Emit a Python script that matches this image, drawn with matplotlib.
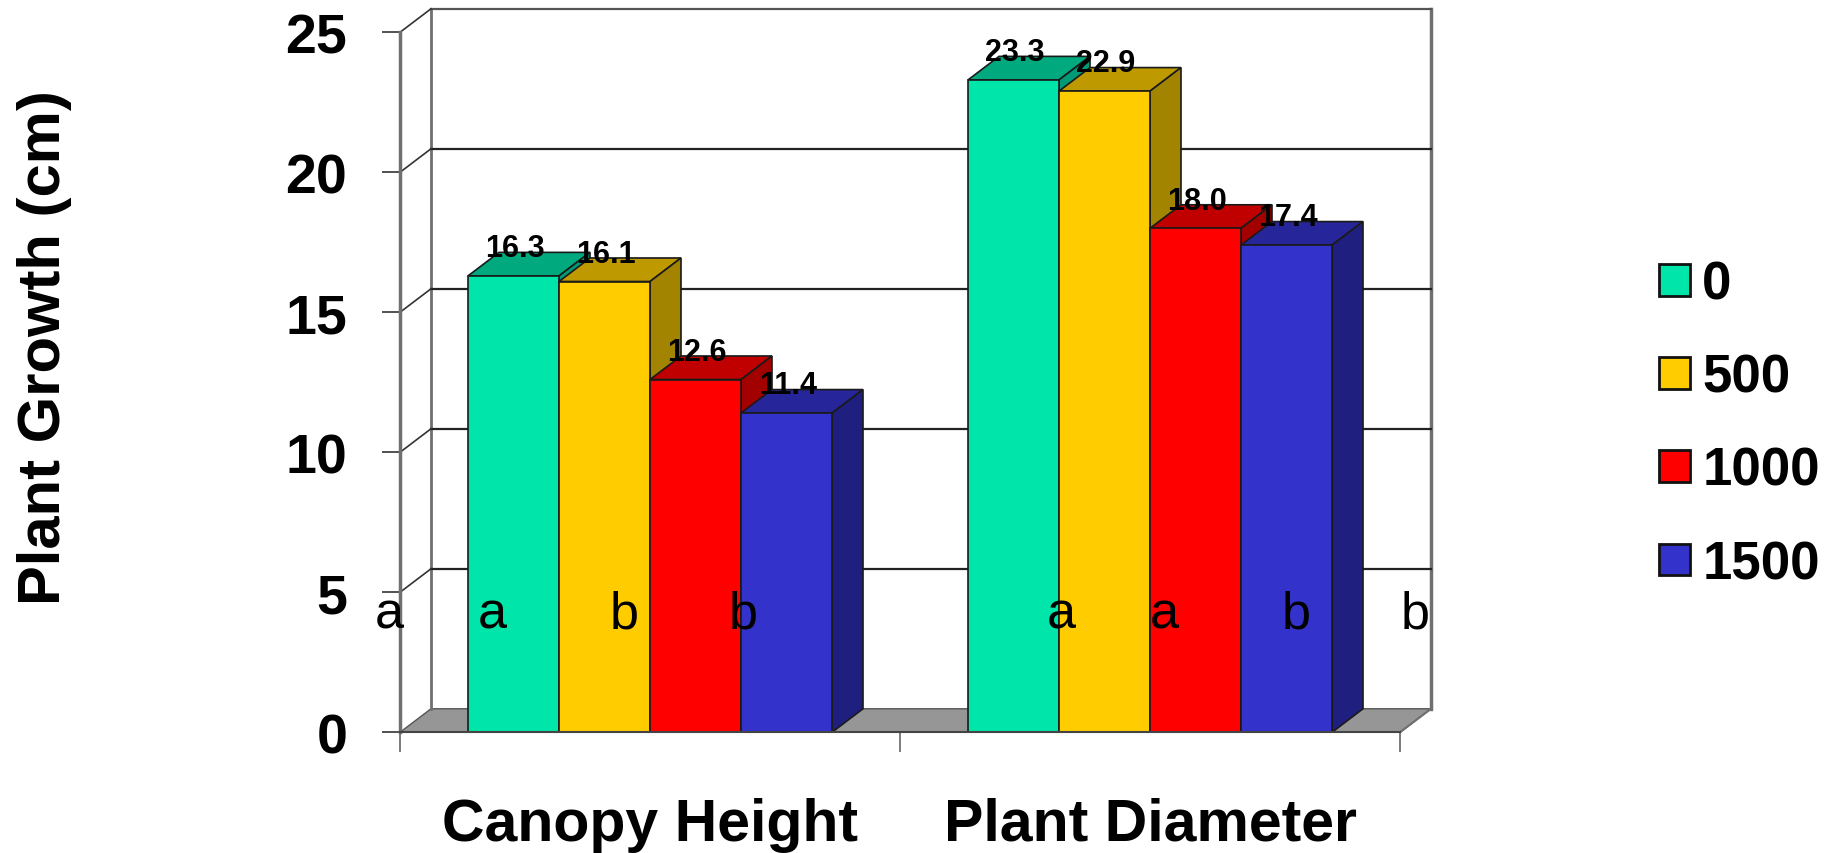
import matplotlib
matplotlib.use('Agg')
import matplotlib.pyplot as plt
from matplotlib.patches import Patch

plt.rcParams['font.family'] = ['Liberation Sans', 'DejaVu Sans']

# Data
categories = ['Canopy Height', 'Plant Diameter']
doses = ['0', '500', '1000', '1500']
dose_0 = [16.3, 23.3]
dose_500 = [16.1, 22.9]
dose_1000 = [12.6, 18.0]
dose_1500 = [11.4, 17.4]
y_ticks = [0, 5, 10, 15, 20, 25]
letters = ['a', 'a', 'b', 'b', 'a', 'a', 'b', 'b']
letter_x = [-0.022, 0.184, 0.448, 0.686, 1.322, 1.528, 1.792, 2.03]
letter_y = 3.76

series = [dose_0, dose_500, dose_1000, dose_1500]
front_colors = ['#00E6AA', '#FFCC00', '#FF0000', '#3333CC']
top_colors = ['#00AA7E', '#BF9900', '#C00000', '#26269A']
side_colors = ['#009A76', '#A38400', '#A30000', '#1F1F80']

width = 0.182
depth_x = 0.062  # fake 3D depth, in data units
depth_y = 0.84
edge = '#1a1a1a'
wall = '#707070'

fig = plt.figure(figsize=(18.39, 8.54), dpi=100)
ax = fig.add_axes([400 / 1839, (854 - 733.3) / 854, 1000 / 1839, 700 / 854])
ax.set_xlim(0, 2)
ax.set_ylim(0, 25)

# Walls and floor
ax.fill([0, 2, 2 + depth_x, depth_x], [0, 0, depth_y, depth_y],
        facecolor='#969696', edgecolor='#555555', lw=1, zorder=1, clip_on=False)
ax.plot([depth_x, depth_x], [depth_y, 25 + depth_y], color=wall, lw=2, zorder=1, clip_on=False)
ax.plot([2 + depth_x, 2 + depth_x], [depth_y, 25 + depth_y], color=wall, lw=2.5, zorder=1, clip_on=False)
ax.plot([2, 2 + depth_x], [0, depth_y], color=wall, lw=1.5, zorder=1, clip_on=False)
for v in y_ticks[1:]:
    ax.plot([depth_x, 2 + depth_x], [v + depth_y, v + depth_y], color='#222222' if v < 25 else '#555555',
            lw=1.6, zorder=1, clip_on=False)
    ax.plot([0, depth_x], [v, v + depth_y], color='#333333', lw=1.2, zorder=1, clip_on=False)

# Bars, left to right so each one covers the side of the one before
z = 2
for g in range(len(categories)):
    for s in range(len(doses)):
        val = series[s][g]
        left = g + 0.5 + (s - 2) * width
        right = left + width
        ax.fill([left, right, right + depth_x, left + depth_x],
                [val, val, val + depth_y, val + depth_y],
                facecolor=top_colors[s], edgecolor=edge, lw=1.2, zorder=z, clip_on=False)
        ax.fill([right, right + depth_x, right + depth_x, right],
                [0, depth_y, val + depth_y, val],
                facecolor=side_colors[s], edgecolor=edge, lw=1.2, zorder=z, clip_on=False)
        ax.bar(left, val, width, align='edge', color=front_colors[s], edgecolor=edge, lw=1.2,
               zorder=z + 0.5)
        ax.annotate(f'{val:.1f}', (left + width / 2, val), xytext=(1, 14.2), textcoords='offset points',
                    ha='center', va='baseline', fontsize=22, fontweight='bold', color='black', zorder=50)
        z += 1

# Significance letters
for lx, lt in zip(letter_x, letters):
    ax.text(lx, letter_y, lt, ha='center', va='baseline', fontsize=37.5, color='black', zorder=60,
            clip_on=False)

# Axes
for name in ['top', 'right']:
    ax.spines[name].set_visible(False)
ax.patch.set_alpha(0)
ax.spines['left'].set_color(wall)
ax.spines['left'].set_linewidth(2.5)
ax.spines['bottom'].set_color('#444444')
ax.spines['bottom'].set_linewidth(1.5)
ax.spines['bottom'].set_zorder(40)

ax.set_yticks(y_ticks)
ax.set_yticklabels([str(v) for v in y_ticks], fontsize=40, fontweight='bold')
ax.tick_params(axis='y', length=13, width=1.2, color='#333333', pad=25)

ax.set_xticks([0.5, 1.5])
ax.set_xticklabels(categories, fontsize=42.5, fontweight='bold')
ax.set_xticks([0, 1, 2], minor=True)
ax.tick_params(axis='x', which='major', length=0, pad=46.5)
ax.tick_params(axis='x', which='minor', length=14.4, width=1.2, color='#666666')

ax.set_ylabel('Plant Growth (cm)', fontsize=43, fontweight='bold')
ax.yaxis.set_label_coords(-0.328, 0.551)

# Legend
handles = [Patch(facecolor=c, edgecolor='#111111', lw=2) for c in front_colors]
ax.legend(handles, doses, loc='center left', bbox_to_anchor=(1.259, 0.44),
          frameon=False, prop={'weight': 'bold', 'size': 38}, handlelength=0.59,
          handleheight=0.55, handletextpad=0.23, labelspacing=0.82, borderpad=0, borderaxespad=0)

fig.savefig('out.png', dpi=100)
